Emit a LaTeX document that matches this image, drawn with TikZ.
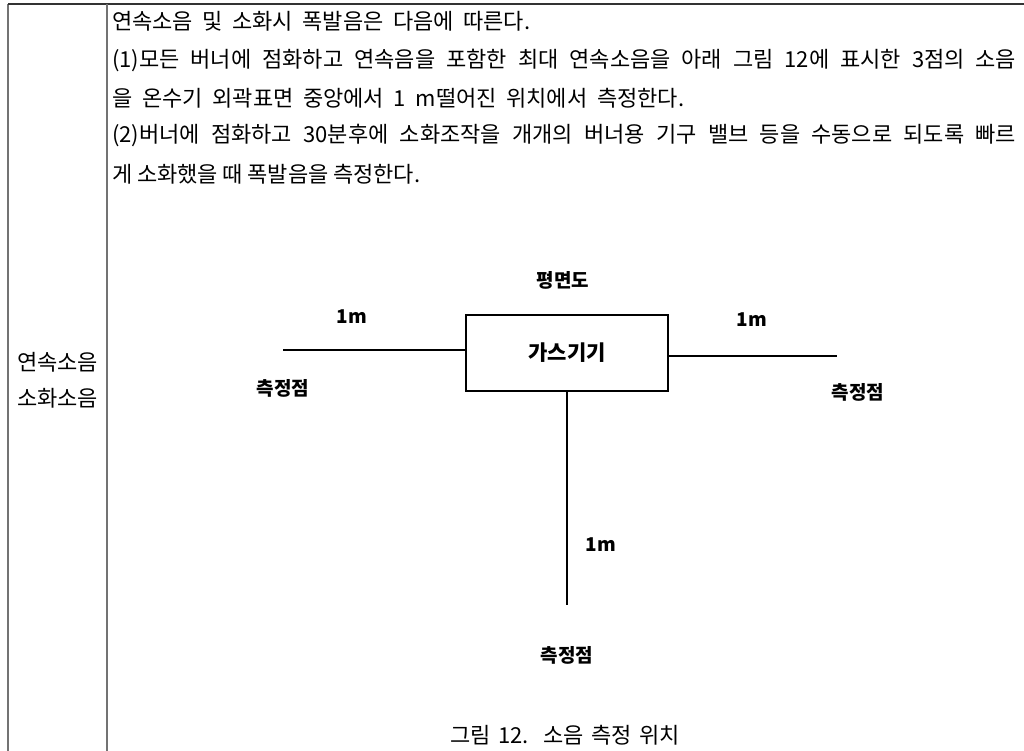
\documentclass[tikz,border=0pt]{standalone}
\usepackage{fontspec}
\setmainfont{Noto Sans CJK KR}
\begin{document}
\begin{tikzpicture}[x=1pt,y=-1pt,
  txt/.style={inner sep=0pt, font=\fontsize{22}{26}\selectfont},
  lbl/.style={inner sep=0pt, font=\fontsize{19}{22}\selectfont\bfseries},
  tableline/.style={draw=black!55, line width=1.6pt},
  figline/.style={draw=black, line width=1.8pt}]
\useasboundingbox (0,0) rectangle (1024,751);
\fill[white] (0,0) rectangle (1024,751);
% table
\draw[tableline] (8,751) -- (8,4);
\draw[draw=black!80, line width=1.4pt] (8,4) -- (1024,4);
\draw[tableline] (107,4) -- (107,751);
% left column
\node[txt] (c1) at (57.5,362) {연속소음};
\node[txt] (c2) at (57.5,398) {소화소음};
% right column text
\node[txt, anchor=west] (t1) at (112,21) {\makebox[418pt][s]{연속소음 및 소화시 폭발음은 다음에 따른다.}};
\node[txt, anchor=west] (t2) at (112,60) {\makebox[904pt][s]{(1)모든 버너에 점화하고 연속음을 포함한 최대 연속소음을 아래 그림 12에 표시한 3점의 소음}};
\node[txt, anchor=west] (t3) at (112,98) {\makebox[572pt][s]{을 온수기 외곽표면 중앙에서 1 m떨어진 위치에서 측정한다.}};
\node[txt, anchor=west] (t4) at (112,136) {\makebox[904pt][s]{(2)버너에 점화하고 30분후에 소화조작을 개개의 버너용 기구 밸브 등을 수동으로 되도록 빠르}};
\node[txt, anchor=west] (t5) at (112,174) {\makebox[308pt][s]{게 소화했을 때 폭발음을 측정한다.}};
% figure
\node[lbl] (title) at (563,280) {평면도};
\node[figline, minimum width=202pt, minimum height=76pt, inner sep=0pt,
      font=\fontsize{21}{24}\selectfont\bfseries] (dev) at (567,353) {가스기기};
\coordinate (pl) at (283,350);
\coordinate (pr) at (837,356);
\coordinate (pb) at (567,605);
\draw[figline] (pl) -- (pl -| dev.west);
\draw[figline] (pr -| dev.east) -- (pr);
\draw[figline] (dev.south) -- (pb);
\node[lbl] (m1) at (352,317) {1m};
\node[lbl] (m2) at (752,320) {1m};
\node[lbl] (m3) at (601,545) {1m};
\node[lbl] (p1) at (283,388) {측정점};
\node[lbl] (p2) at (858,392) {측정점};
\node[lbl] (p3) at (567,655) {측정점};
\node[txt] (cap) at (565,735) {\makebox[230pt][s]{그림 12. 소음 측정 위치}};
\end{tikzpicture}
\end{document}
